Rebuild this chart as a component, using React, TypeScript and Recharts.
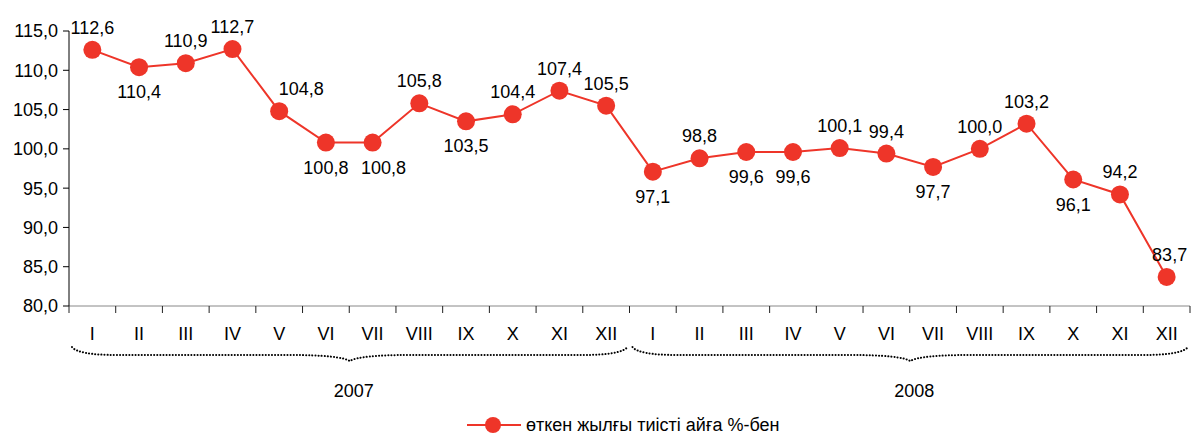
import React from 'react';
import { LineChart, Line, XAxis, YAxis, LabelList } from 'recharts';

// months, two years
const months = ['I', 'II', 'III', 'IV', 'V', 'VI', 'VII', 'VIII', 'IX', 'X', 'XI', 'XII'];
const years = ['2007', '2008'];
const values = [
  112.6, 110.4, 110.9, 112.7, 104.8, 100.8, 100.8, 105.8, 103.5, 104.4, 107.4, 105.5,
  97.1, 98.8, 99.6, 99.6, 100.1, 99.4, 97.7, 100.0, 103.2, 96.1, 94.2, 83.7,
];
const yTicks = [80, 85, 90, 95, 100, 105, 110, 115];
const seriesName = 'өткен жылғы тиісті айға %-бен';

// where each value label sits (true = under the point)
const labelBelow = [
  false, true, false, false, false, true, true, false, true, false, false, false,
  true, false, true, true, false, false, true, false, false, true, false, false,
];
// small sideways nudges for a few labels
const labelDx: Record<number, number> = { 4: 22, 6: 11, 23: 3 };

const data = values.map((v, i) => ({
  month: months[i % 12] + '|' + i,
  value: v,
}));

const W = 1191;
const H = 435;
const X_H = 40;
const M = { top: 31, right: 1, bottom: 129 - X_H, left: 0 };
const AXIS_W = 69;
const RED = '#EE3529';
const FONT = 'Arial, "Liberation Sans", sans-serif';
const FS = 18;

const fmt = (v: number) => v.toFixed(1).replace('.', ',');

const plotLeft = M.left + AXIS_W;
const plotRight = W - M.right;
const band = (plotRight - plotLeft) / values.length;

const MonthTick = (props: any) => {
  const { x, y, payload, index } = props;
  const label = String(payload.value).split('|')[0];
  const left = x - band / 2;
  return (
    <g>
      <line x1={left} y1={y - 8} x2={left} y2={y - 1} stroke="#222" strokeWidth={1} />
      {index === values.length - 1 && (
        <line x1={left + band} y1={y - 8} x2={left + band} y2={y - 1} stroke="#222" strokeWidth={1} />
      )}
      <text x={x} y={y + 26} textAnchor="middle" fontSize={FS} fontFamily={FONT} fill="#000">
        {label}
      </text>
    </g>
  );
};

const ValueLabel = (props: any) => {
  const { x, y, value, index } = props;
  const below = labelBelow[index];
  const dx = labelDx[index] || 0;
  return (
    <text
      x={x + dx}
      y={below ? y + 31 : y - 16}
      textAnchor="middle"
      fontSize={FS}
      fontFamily={FONT}
      fill="#000"
    >
      {fmt(value)}
    </text>
  );
};

// dotted curly brace under each year
const brace = (x1: number, x2: number, y: number) => {
  const mid = (x1 + x2) / 2;
  return `M ${x1} ${y - 8} Q ${x1 + 6} ${y} ${x1 + 45} ${y} L ${mid - 60} ${y} Q ${mid - 10} ${y} ${mid} ${y + 6} Q ${mid + 10} ${y} ${mid + 60} ${y} L ${x2 - 45} ${y} Q ${x2 - 6} ${y} ${x2} ${y - 8}`;
};

const Braces = () => {
  const half = (plotRight - plotLeft) / 2;
  return (
    <g>
      {years.map((yr, i) => {
        const x1 = plotLeft + i * half + 3;
        const x2 = plotLeft + (i + 1) * half - 2;
        const mid = (x1 + x2) / 2;
        return (
          <g key={yr}>
            <path
              d={brace(x1, x2, 355)}
              fill="none"
              stroke="#000"
              strokeWidth={2}
              strokeDasharray="0.1 3"
              strokeLinecap="round"
            />
            <text x={mid + 4} y={397} textAnchor="middle" fontSize={FS} fontFamily={FONT} fill="#000">
              {yr}
            </text>
          </g>
        );
      })}
    </g>
  );
};

const LegendMark = () => (
  <g>
    <line x1={467} y1={425} x2={521} y2={425} stroke={RED} strokeWidth={2} />
    <circle cx={493} cy={425} r={8} fill={RED} />
    <text x={526} y={431} fontSize={FS} fontFamily={FONT} fill="#000">
      {seriesName}
    </text>
  </g>
);

export default function App() {
  return (
    <div style={{ position: 'absolute', left: 0, top: 0, width: W, height: H, background: '#fff' }}>
      <LineChart width={W} height={H} data={data} margin={M}>
        <XAxis
          dataKey="month"
          scale="band"
          interval={0}
          tick={<MonthTick />}
          tickLine={false}
          stroke="#888"
          height={X_H}
        />
        <YAxis
          domain={[80, 115]}
          ticks={yTicks}
          width={AXIS_W}
          tickFormatter={fmt}
          tick={{ fontSize: FS, fontFamily: FONT, fill: '#000' }}
          tickSize={6}
          tickMargin={5}
          stroke="#000"
          interval={0}
          allowDataOverflow
        />
        <Line
          dataKey="value"
          name={seriesName}
          stroke={RED}
          strokeWidth={2}
          dot={{ r: 9, fill: RED, stroke: RED, strokeWidth: 0 }}
          isAnimationActive={false}
        >
          <LabelList dataKey="value" content={<ValueLabel />} />
        </Line>
        <Braces />
        <LegendMark />
      </LineChart>
    </div>
  );
}
